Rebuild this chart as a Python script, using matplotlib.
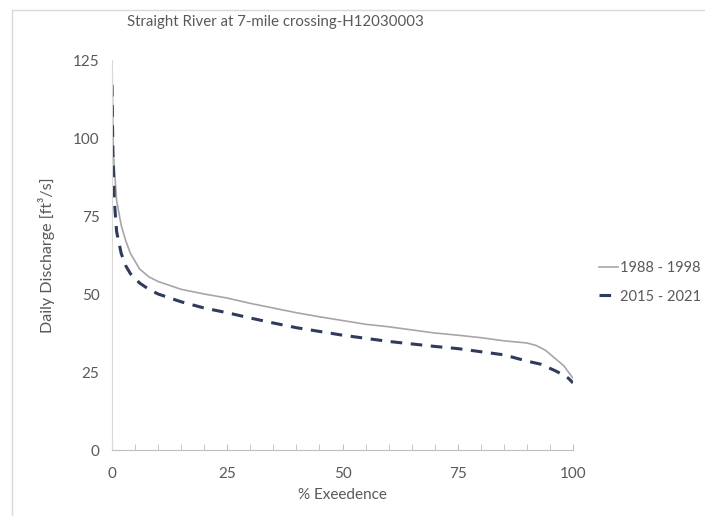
import matplotlib
matplotlib.use("Agg")
import matplotlib.pyplot as plt
import matplotlib.patches as mpatches

plt.rcParams["font.family"] = ["Lato", "DejaVu Sans"]

TITLE = "Straight River at 7-mile crossing-H12030003"

# flow duration curves
exceed_8898 = [0, 0.3, 1, 2, 3, 4, 6, 8, 10, 15, 20, 25, 30, 35, 40, 45, 50,
               55, 60, 65, 70, 75, 80, 85, 90, 92, 94, 96, 98, 99, 100]
flow_8898 = [124, 95, 80, 72, 67, 63, 58, 55.5, 54, 51.5, 50, 48.7, 47, 45.5,
             44, 42.7, 41.5, 40.3, 39.5, 38.5, 37.5, 36.8, 36, 35, 34.3, 33.5,
             32, 29.5, 27, 25, 23]

exceed_1521 = [0, 0.2, 0.5, 1, 2, 3, 4, 6, 8, 10, 15, 20, 25, 30, 35, 40, 45,
               50, 55, 60, 65, 70, 75, 80, 85, 90, 93, 96, 98, 99, 100]
flow_1521 = [117, 95, 80, 70, 63, 59, 56.5, 53.5, 51.5, 50, 47.5, 45.5, 44,
             42.3, 40.7, 39.2, 38, 36.8, 35.8, 34.8, 34, 33.2, 32.5, 31.5, 30.5,
             28.5, 27.5, 25.5, 24, 23, 21.5]

x_ticks = [0, 25, 50, 75, 100]
y_ticks = [0, 25, 50, 75, 100, 125]

TEXT = "#595959"

fig = plt.figure(figsize=(7.05, 5.16), dpi=100)
# chart area border like the excel export
fig.patches.append(mpatches.Rectangle((12 / 705, -0.05), 1.0, 1 - 10 / 516 + 0.05,
                                      transform=fig.transFigure, fill=False,
                                      edgecolor="#d9d9d9", linewidth=1.0))

ax = fig.add_axes([112 / 705, 1 - 450 / 516, 461 / 705, 390 / 516])

ax.plot(exceed_8898, flow_8898, color="#a6a6a6", linewidth=1.2, label="1988 - 1998")
ax.plot(exceed_1521, flow_1521, color="#2f3b5c", linewidth=2.2,
        dashes=(3.8, 2.8), label="2015 - 2021")

ax.set_xlim(0, 100)
ax.set_ylim(0, 125)
ax.set_xticks(x_ticks)
ax.set_xticks(range(0, 101, 5), minor=True)
ax.set_yticks(y_ticks)

for s in ["top", "right"]:
    ax.spines[s].set_visible(False)
ax.spines["left"].set_color("#d9d9d9")
ax.spines["bottom"].set_color("#bfbfbf")

ax.tick_params(axis="y", length=0, pad=9, labelsize=11, labelcolor=TEXT)
ax.tick_params(axis="x", which="both", direction="in", length=4, color="#bfbfbf",
               pad=12, labelsize=11, labelcolor=TEXT)

fig.text(275 / 705, 1 - 22 / 516, TITLE, fontsize=10.8, color=TEXT,
         ha="center", va="center")
ax.set_xlabel("% Exeedence", fontsize=11, color=TEXT, labelpad=5)
ax.set_ylabel("Daily Discharge [ft\u00b3/s]", fontsize=11.5, color=TEXT, labelpad=13)

ax.legend(loc="center left", bbox_to_anchor=(1.027, 0.43), frameon=False,
          fontsize=10.5, labelcolor=TEXT, handlelength=1.3, handletextpad=0.2,
          labelspacing=1.0)

fig.savefig("out.png", dpi=100)
plt.close(fig)
